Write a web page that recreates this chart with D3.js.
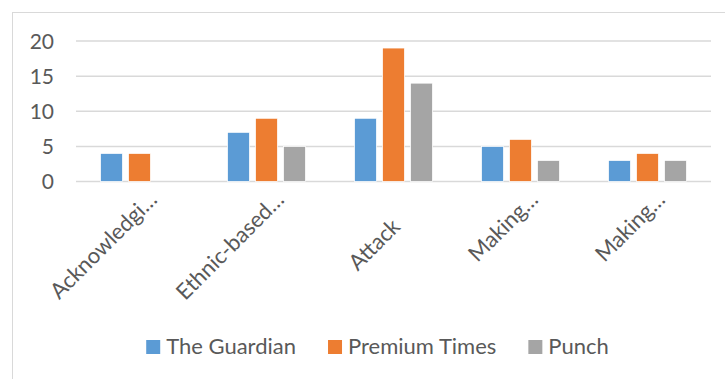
<!DOCTYPE html>
<html>
  <head>
    <meta charset="utf-8">
    <title>Grouped bar chart</title>
    <style>
      body { margin: 0; background: #fff; }
      text { font-family: Lato, 'Open Sans', sans-serif; fill: #595959; }
    </style>
  </head>
  <body>
    <div><svg id='chart'/></div>
  </body>
  <script type="text/javascript" src="https://cdn.jsdelivr.net/npm/d3@7"></script>
  <script type="text/javascript">
    const categories = ['Acknowledgi\u2026', 'Ethnic-based\u2026', 'Attack', 'Making\u2026', 'Making\u2026'];
    const seriesNames = ['The Guardian', 'Premium Times', 'Punch'];
    const guardian = [4, 7, 9, 5, 3];
    const premiumTimes = [4, 9, 19, 6, 4];
    const punch = [0, 5, 14, 3, 3];
    const yTicks = [0, 5, 10, 15, 20];
    const colors = ['#5B9BD5', '#ED7D31', '#A5A5A5'];

    const seriesValues = [guardian, premiumTimes, punch];
    const [width, height] = [725, 379];

    var svg = d3.select('#chart')
      .attr('width', width)
      .attr('height', height)

    // chart area border (only left/top visible in the picture)
    svg.append('rect')
      .attr('x', 12.5)
      .attr('y', 12.5)
      .attr('width', 730)
      .attr('height', 390)
      .attr('fill', 'none')
      .attr('stroke', '#D9D9D9')
      .attr('stroke-width', 1)

    var x0 = d3.scaleBand()
      .domain(d3.range(categories.length))
      .range([76, 711])

    var x1 = d3.scaleBand()
      .domain(d3.range(seriesNames.length))
      .range([0, 84])
      .paddingInner(0.214)
      .paddingOuter(0.107)

    var y = d3.scaleLinear()
      .domain([0, 20])
      .range([181.5, 41])

    // gridlines
    svg.append('g')
      .selectAll('line')
      .data(yTicks)
      .enter()
      .append('line')
      .attr('x1', 76)
      .attr('x2', 711)
      .attr('y1', d => y(d))
      .attr('y2', d => y(d))
      .attr('stroke', '#D9D9D9')
      .attr('stroke-width', 1.5)

    // y labels
    svg.append('g')
      .selectAll('text')
      .data(yTicks)
      .enter()
      .append('text')
      .attr('x', 54)
      .attr('y', d => y(d))
      .attr('dy', '0.36em')
      .attr('text-anchor', 'end')
      .style('font-size', '21px')
      .text(d => d)

    // bars
    var groups = svg.append('g')
      .selectAll('g')
      .data(categories)
      .enter()
      .append('g')
      .attr('transform', (d, i) => 'translate(' + (x0(i) + x0.bandwidth() / 2 - 42) + ',0)')

    groups.selectAll('rect')
      .data((d, i) => seriesValues.map((vals, s) => ({ s: s, v: vals[i] })))
      .enter()
      .append('rect')
      .attr('x', d => x1(d.s))
      .attr('width', x1.bandwidth())
      .attr('y', d => y(d.v))
      .attr('height', d => y(0) - y(d.v))
      .attr('fill', d => colors[d.s])
      .attr('stroke', '#fff')
      .attr('stroke-width', d => d.v > 0 ? 0.75 : 0)

    // category labels, rotated -45
    svg.append('g')
      .selectAll('text')
      .data(categories)
      .enter()
      .append('text')
      .attr('text-anchor', 'end')
      .style('font-size', '22px')
      .attr('transform', function(d, i) {
        var cx = x0(i) + x0.bandwidth() / 2
        // truncated labels sit higher than full ones
        var truncated = d.endsWith('\u2026')
        var px = truncated ? cx + 19 : cx + 8
        var py = truncated ? 201 : 228
        return 'translate(' + px + ',' + py + ') rotate(-45)'
      })
      .text(d => d)

    // legend
    var legend = svg.append('g')
    var items = legend.selectAll('g')
      .data(seriesNames)
      .enter()
      .append('g')
    items.append('rect')
      .attr('width', 14)
      .attr('height', 14)
      .attr('y', 340)
      .attr('fill', (d, i) => colors[i])
    items.append('text')
      .attr('x', 20)
      .attr('y', 354)
      .style('font-size', '22px')
      .text(d => d)

    var offs = []
    var cur = 0
    items.each(function() {
      offs.push(cur)
      cur += 20 + d3.select(this).select('text').node().getComputedTextLength() + 32
    })
    var total = cur - 32
    var startX = 377.5 - total / 2
    items.attr('transform', (d, i) => 'translate(' + (startX + offs[i]) + ',0)')
  </script>
</html>
